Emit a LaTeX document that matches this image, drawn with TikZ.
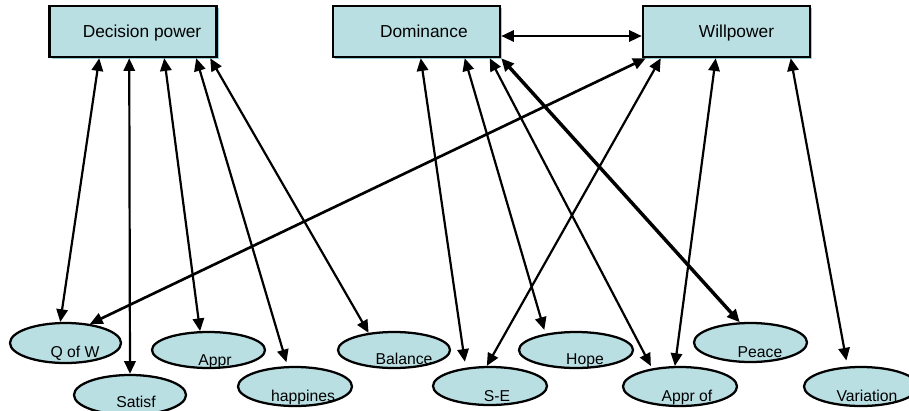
\documentclass[tikz,border=0pt]{standalone}
\usepackage{fontspec}
\setmainfont{Liberation Sans}
\usetikzlibrary{arrows.meta,calc,shapes.geometric,shadows}
\definecolor{boxfill}{RGB}{185,223,227}
\definecolor{shadowc}{RGB}{150,205,215}
\begin{document}
\begin{tikzpicture}[x=0.75pt,y=-0.75pt,
  box/.style={draw, line width=1.9pt, fill=boxfill, minimum width=125.25pt, minimum height=38.25pt, inner sep=0pt,
    font=\fontsize{13}{15}\selectfont, text height=9.3pt, text depth=0pt,
    drop shadow={shadow xshift=1.5pt, shadow yshift=-1.5pt, fill=shadowc, opacity=1}},
  oval/.style 2 args={draw, ellipse, line width=1.7pt, fill=boxfill, inner sep=0pt,
    minimum width=#1*1.5pt, minimum height=#2*1.5pt},
  etext/.style={anchor=base, inner sep=0pt, font=\fontsize{11.8}{13}\selectfont},
  conn/.style={line width=1.65pt, {Triangle[length=9.5pt,width=8.5pt]}-{Triangle[length=9.5pt,width=8.5pt]}}
]
\useasboundingbox (0,0) rectangle (909,410);
\clip (0,0) rectangle (909,410);

% boxes
\node[box] (dp)  at (133,31.5)   {\hspace*{13.5pt}Decision power};
\node[box] (dom) at (416.5,31.5) {\hspace*{11pt}Dominance};
\node[box] (wp)  at (726.5,31.5) {\hspace*{15pt}Willpower};

% ellipses
\node[oval={55.5}{20}]   (qow)       at (65.5,343)   {};
\node[oval={56}{20}]     (satisf)    at (130,395)    {};
\node[oval={56.5}{18}]   (appr)      at (208.5,350)  {};
\node[oval={57}{19.5}]   (happines)  at (295,386.5)  {};
\node[oval={56}{18}]     (balance)   at (394,350)    {};
\node[oval={57}{19}]     (se)        at (490,386)    {};
\node[oval={57}{18}]     (hope)      at (576,350)    {};
\node[oval={57}{19.5}]   (approf)    at (680,386.5)  {};
\node[oval={56.5}{19.5}] (peace)     at (750.5,342.5){};
\node[oval={57}{19.5}]   (variation) at (861,386.5)  {};

% ellipse texts
\node[etext] (qowt)       at ($(qow)+(9.5,14)$)       {Q of W};
\node[etext] (satisft)    at ($(satisf)+(6,12.5)$)    {Satisf};
\node[etext] (apprt)      at ($(appr)+(6.5,15)$)      {Appr};
\node[etext] (happinest)  at ($(happines)+(8,15)$)    {happines};
\node[etext] (balancet)   at ($(balance)+(10,14.5)$)  {Balance};
\node[etext] (set)        at ($(se)+(7,15.5)$)        {S-E};
\node[etext] (hopet)      at ($(hope)+(9,14.5)$)      {Hope};
\node[etext] (approft)    at ($(approf)+(7,15)$)      {Appr of};
\node[etext] (peacet)     at ($(peace)+(9.5,14.5)$)   {Peace};
\node[etext] (variationt) at ($(variation)+(6,15)$)   {Variation};

% connectors
\draw[conn] ($(dp.south west)+(51,0)$)  -- (qow.104);
\draw[conn] ($(dp.south west)+(81,0)$)  -- (satisf.north);
\draw[conn] ($(dp.south west)+(116,0)$) -- (appr.114);
\draw[conn, shorten >=3pt] ($(dp.south west)+(148,0)$) -- (happines.110);
\draw[conn] ($(dp.south west)+(162,0)$) -- (balance.146);

\draw[conn] ($(dom.east)+(0,4.5)$) -- ($(wp.west)+(0,4.5)$);

\draw[conn, line width=2pt] ($(wp.south west)+(4,0)$) -- (qow.38);
\draw[conn, shorten >=4.5pt] ($(dom.south west)+(89,0)$) -- (se.143);
\draw[conn] ($(wp.south west)+(19,0)$) -- (se.99);
\draw[conn, shorten >=3pt] ($(dom.south west)+(133,0)$) -- (hope.152);
\draw[conn, shorten >=2pt] ($(dom.south west)+(158,0)$) -- (approf.147);
\draw[conn, line width=2.6pt] (dom.south east) -- (peace.118);
\draw[conn] ($(wp.south west)+(74,0)$) -- (approf.104);
\draw[conn, shorten >=4.5pt] ($(wp.south west)+(149,0)$) -- (variation.124);
\end{tikzpicture}
\end{document}
